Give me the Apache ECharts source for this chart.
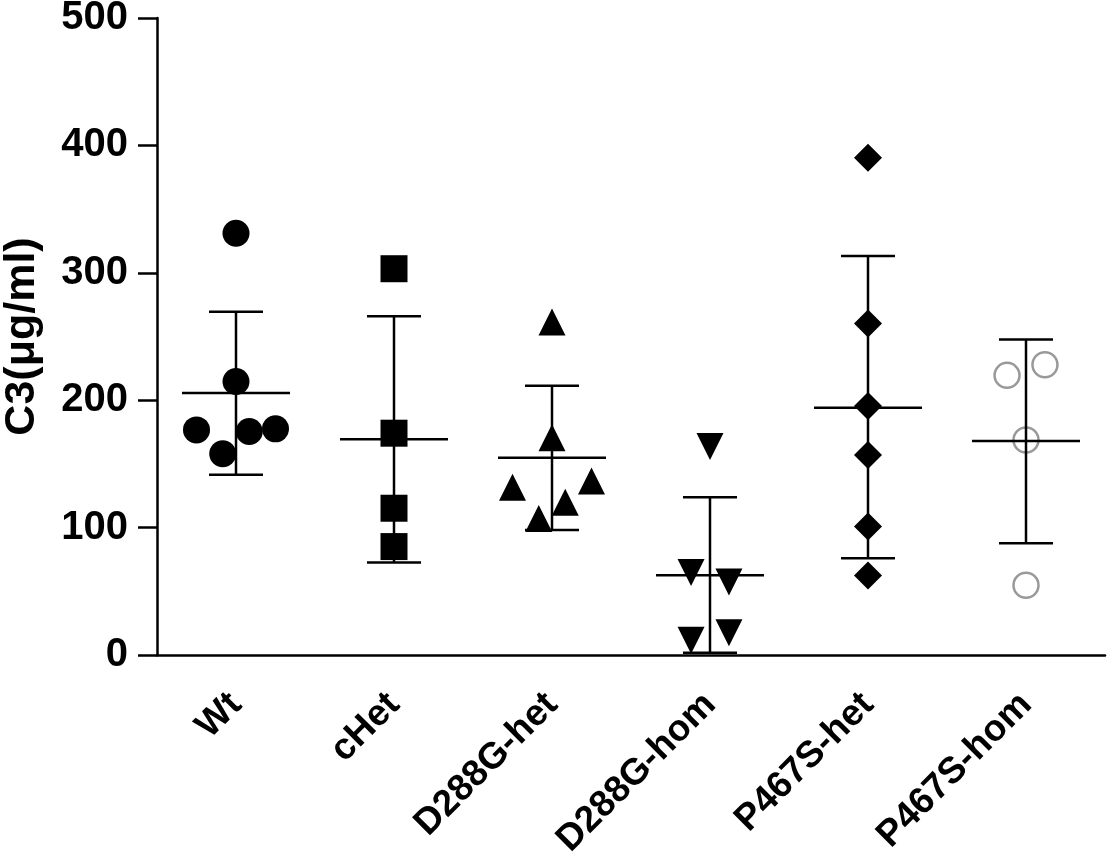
<!DOCTYPE html>
<html>
<head>
<meta charset="utf-8">
<script src="https://cdn.jsdelivr.net/npm/echarts@6/dist/echarts.min.js"></script>
<style>
  html, body { margin: 0; padding: 0; background: #fff; }
  #main { width: 1112px; height: 866px; }
</style>
</head>
<body>
<div id="main"></div>
<script>
// groups on the x axis
var categories = ["Wt", "cHet", "D288G-het", "D288G-hom", "P467S-het", "P467S-hom"];
var yTicks = [0, 100, 200, 300, 400, 500];

// individual values per group (µg/ml), with horizontal jitter in category widths
var wtValues = [331, 214.7, 176.7, 158, 175.4, 177.5];
var wtJitter = [0, 0, -0.25, -0.084, 0.084, 0.25];
var cHetValues = [303.2, 174.1, 115.2, 85.1];
var cHetJitter = [0, 0, 0, 0];
var d288gHetValues = [261.4, 170.6, 131.7, 136.5, 119.8, 107.1];
var d288gHetJitter = [0, 0, -0.25, 0.25, 0.084, -0.084];
var d288gHomValues = [163.7, 64.8, 57.3, 17.5, 11.5];
var d288gHomJitter = [0, -0.12, 0.12, 0.12, -0.12];
var p467sHetValues = [390.3, 260.2, 195.5, 156.9, 100.9, 62.4];
var p467sHetJitter = [0, 0, 0, 0, 0, 0];
var p467sHomValues = [219.5, 227.8, 168.7, 54.7];
var p467sHomJitter = [-0.12, 0.12, 0, 0];

// mean and SD limits per group
var means = [205.6, 169.4, 154.8, 62.6, 194.1, 168];
var lowers = [141.4, 72.6, 98.2, 1.8, 75.9, 87.7];
var uppers = [269.4, 265.8, 211.4, 123.9, 313.2, 247.6];

var FONT = "Liberation Sans, Arial, Helvetica, sans-serif";

function points(idx, values, jitter) {
  return values.map(function (v, i) { return [idx + jitter[i], v]; });
}

var groups = [
  { values: wtValues, jitter: wtJitter, symbol: "circle", size: 27 },
  { values: cHetValues, jitter: cHetJitter, symbol: "rect", size: 27 },
  { values: d288gHetValues, jitter: d288gHetJitter, symbol: "triangle", size: 27 },
  { values: d288gHomValues, jitter: d288gHomJitter, symbol: "triangle", size: 27, rotate: 180 },
  { values: p467sHetValues, jitter: p467sHetJitter, symbol: "diamond", size: [28, 28] },
  { values: p467sHomValues, jitter: p467sHomJitter, symbol: "circle", size: 25, hollow: true }
];

var scatterSeries = groups.map(function (g, idx) {
  return {
    type: "scatter",
    xAxisIndex: 1,
    symbol: g.symbol,
    symbolSize: g.size,
    symbolRotate: g.rotate || 0,
    itemStyle: g.hollow
      ? { color: "#fff", borderColor: "#999", borderWidth: 2.5, opacity: 1 }
      : { color: "#000", opacity: 1 },
    z: 2,
    data: points(idx, g.values, g.jitter)
  };
});

var barData = categories.map(function (c, i) { return [i, means[i], lowers[i], uppers[i]]; });

var errorSeries = {
  type: "custom",
  xAxisIndex: 0,
  z: 5,
  encode: { x: 0, y: [1, 2, 3] },
  data: barData,
  renderItem: function (params, api) {
    var x = api.value(0);
    var m = api.coord([x, api.value(1)]);
    var lo = api.coord([x, api.value(2)]);
    var hi = api.coord([x, api.value(3)]);
    var cap = 27, mw = 54;
    var st = { stroke: "#000", lineWidth: 2.5 };
    return {
      type: "group",
      children: [
        { type: "line", shape: { x1: hi[0], y1: hi[1], x2: lo[0], y2: lo[1] }, style: st },
        { type: "line", shape: { x1: hi[0] - cap, y1: hi[1], x2: hi[0] + cap, y2: hi[1] }, style: st },
        { type: "line", shape: { x1: lo[0] - cap, y1: lo[1], x2: lo[0] + cap, y2: lo[1] }, style: st },
        { type: "line", shape: { x1: m[0] - mw, y1: m[1], x2: m[0] + mw, y2: m[1] }, style: st }
      ]
    };
  }
};

var chart = echarts.init(document.getElementById("main"));
chart.setOption({
  animation: false,
  backgroundColor: "#fff",
  grid: { left: 157, right: 7, top: 18, bottom: 211, containLabel: false, outerBoundsMode: "none" },
  xAxis: [
    {
      type: "category",
      data: categories,
      boundaryGap: true,
      axisLine: { lineStyle: { color: "#000", width: 2.5 } },
      axisTick: { alignWithLabel: true, length: 19, lineStyle: { color: "#000", width: 2.5 } },
      axisLabel: {
        rotate: 45,
        margin: 44,
        color: "#000",
        fontFamily: FONT,
        fontWeight: "bold",
        fontSize: 37
      },
      splitLine: { show: false }
    },
    { type: "value", min: -0.5, max: 5.5, show: false }
  ],
  yAxis: {
    type: "value",
    min: yTicks[0],
    max: yTicks[yTicks.length - 1],
    interval: 100,
    name: "C3(μg/ml)",
    nameLocation: "middle",
    nameGap: 113,
    nameTextStyle: { color: "#000", fontFamily: FONT, fontWeight: "bold", fontSize: 43 },
    axisLine: { show: true, onZero: false, lineStyle: { color: "#000", width: 2.5 } },
    axisTick: { show: true, length: 19, lineStyle: { color: "#000", width: 2.5 } },
    axisLabel: { margin: 29, color: "#000", fontFamily: FONT, fontWeight: "bold", fontSize: 40 },
    splitLine: { show: false }
  },
  series: scatterSeries.concat([errorSeries])
});
</script>
</body>
</html>
